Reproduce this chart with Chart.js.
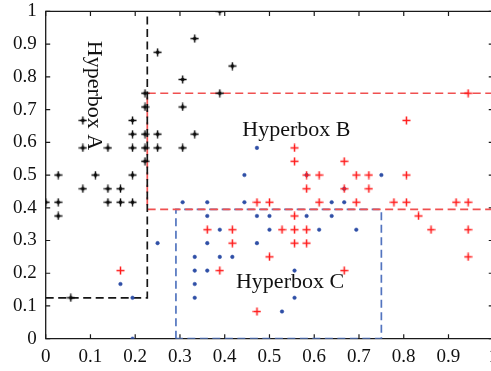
<!DOCTYPE html>
<html><head><meta charset="utf-8">
<script src="https://cdn.jsdelivr.net/npm/chart.js@4.4.1/dist/chart.umd.min.js"></script>
<style>
html,body{margin:0;padding:0;background:#fff;overflow:hidden;width:491px;height:371px;position:relative}
#wrap{position:absolute;left:0;top:0}
</style>
</head><body><div id="wrap"><canvas id="c" width="505" height="378"></canvas></div>
<script>
// ---- data ----
const tickValues = [0,0.1,0.2,0.3,0.4,0.5,0.6,0.7,0.8,0.9,1];
const tickLabels = ['0','0.1','0.2','0.3','0.4','0.5','0.6','0.7','0.8','0.9','1'];

const classAX = [0.389,0.333,0.25,0.417,0.306,0.222,0.389,0.222,0.306,0.083,0.194,0.194,0.222,0.25,0.333,0.083,0.139,0.194,0.222,0.25,0.306,0.222,0.028,0.111,0.194,0.083,0.139,0.167,0,0.028,0.139,0.167,0.194,0.028,0.056];
const classAY = [1,0.917,0.875,0.833,0.792,0.75,0.75,0.708,0.708,0.667,0.667,0.625,0.625,0.625,0.625,0.583,0.583,0.583,0.583,0.583,0.583,0.542,0.5,0.5,0.5,0.458,0.458,0.458,0.417,0.417,0.417,0.417,0.417,0.375,0.125];

const classBX = [0.944,0.806,0.556,0.556,0.667,0.583,0.611,0.694,0.722,0.806,0.583,0.667,0.722,0.472,0.5,0.611,0.694,0.778,0.806,0.917,0.944,0.556,0.833,0.361,0.417,0.528,0.556,0.583,0.861,0.944,0.417,0.556,0.583,0.5,0.944,0.167,0.389,0.667,0.472];
const classBY = [0.75,0.667,0.583,0.542,0.542,0.5,0.5,0.5,0.5,0.5,0.458,0.458,0.458,0.417,0.417,0.417,0.417,0.417,0.417,0.417,0.417,0.375,0.375,0.333,0.333,0.333,0.333,0.333,0.333,0.333,0.292,0.292,0.292,0.25,0.25,0.208,0.208,0.208,0.083];

const classCX = [0.472,0.444,0.75,0.306,0.361,0.444,0.639,0.667,0.361,0.472,0.5,0.583,0.639,0.389,0.5,0.611,0.694,0.25,0.361,0.472,0.333,0.389,0.417,0.333,0.361,0.556,0.167,0.333,0.194,0.333,0.556,0.528,0.194,0.583,0.667];
const classCY = [0.583,0.5,0.5,0.417,0.417,0.417,0.417,0.417,0.375,0.375,0.375,0.375,0.375,0.333,0.333,0.333,0.333,0.292,0.292,0.292,0.25,0.25,0.25,0.208,0.208,0.208,0.167,0.167,0.125,0.125,0.125,0.083,0,0.5,0.458];

const boxAX = [0,0.227,0.227];
const boxAY = [0.125,0.125,1];
const boxBX = [1,0.227,0.227,1];
const boxBY = [0.75,0.75,0.395,0.395];
const boxCX = [0.291,0.291,0.75,0.75,0.291];
const boxCY = [0,0.395,0.395,0,0];

const boxNames = ['Hyperbox A','Hyperbox B','Hyperbox C'];

// ---- build ----
const pts = (xs, ys) => xs.map((x, i) => ({x: x, y: ys[i]}));
const SERIF = '"Liberation Serif", "Times New Roman", serif';

// target plot frame in the page
const FRAME = {left: 45.7, top: 11.7, width: 447.2, height: 327};

// marker images
function plusMarker(color, size, lw, core) {
  const c = document.createElement('canvas');
  c.width = size; c.height = size;
  const g = c.getContext('2d');
  const m = size / 2;
  g.strokeStyle = color; g.lineWidth = lw;
  g.beginPath();
  g.moveTo(0.5, m); g.lineTo(size - 0.5, m);
  g.moveTo(m, 0.5); g.lineTo(m, size - 0.5);
  g.stroke();
  if (core) {
    g.fillStyle = color;
    g.beginPath();
    g.moveTo(m - core, m); g.lineTo(m, m - core); g.lineTo(m + core, m); g.lineTo(m, m + core);
    g.closePath(); g.fill();
  }
  return c;
}
const blackPlus = plusMarker('#0a0a0a', 9, 1.4, 2.4);
const redPlus = plusMarker('#ff1a1a', 9, 1.5, 0);

const framePlugin = {
  id: 'frame',
  beforeDatasetsDraw(chart) {
    const {ctx, chartArea: a, scales: {x, y}} = chart;
    ctx.save();
    ctx.strokeStyle = '#1a1a1a';
    ctx.lineWidth = 1.3;
    ctx.beginPath();
    ctx.rect(a.left, a.top, a.right - a.left, a.bottom - a.top);
    ctx.stroke();
    const L = 4.5;
    ctx.lineWidth = 1.2;
    ctx.beginPath();
    x.ticks.forEach(t => {
      const px = x.getPixelForValue(t.value);
      ctx.moveTo(px, a.bottom); ctx.lineTo(px, a.bottom - L);
      ctx.moveTo(px, a.top); ctx.lineTo(px, a.top + L);
    });
    y.ticks.forEach(t => {
      const py = y.getPixelForValue(t.value);
      ctx.moveTo(a.left, py); ctx.lineTo(a.left + L, py);
      ctx.moveTo(a.right, py); ctx.lineTo(a.right - L, py);
    });
    ctx.stroke();
    ctx.restore();
  }
};

const textPlugin = {
  id: 'boxText',
  afterDatasetsDraw(chart, args, opts) {
    const {ctx, scales: {x, y}} = chart;
    ctx.save();
    ctx.fillStyle = '#111';
    ctx.font = '22px ' + SERIF;
    ctx.textBaseline = 'alphabetic';
    ctx.textAlign = 'center';
    opts.items.forEach((it, i) => {
      const px = x.getPixelForValue(it.x), py = y.getPixelForValue(it.y);
      ctx.save();
      ctx.translate(px, py);
      if (it.rot) ctx.rotate(Math.PI / 2);
      ctx.fillText(boxNames[i], 0, 0);
      ctx.restore();
    });
    ctx.restore();
  }
};

const lineDs = (xs, ys, color, order) => ({
  type: 'scatter', data: pts(xs, ys), showLine: true, fill: false, tension: 0,
  borderColor: color, borderWidth: 1.7, borderDash: [8, 4.5], pointRadius: 0, order: order
});

const axisCommon = {
  type: 'linear', min: 0, max: 1,
  grid: {display: false, drawTicks: false},
  border: {display: false},
  afterBuildTicks: s => { s.ticks = tickValues.map(v => ({value: v})); }
};

function makeConfig() {
  return {
    type: 'scatter',
    data: {
      datasets: [
        lineDs(boxAX, boxAY, '#151515', 10),
        lineDs(boxBX, boxBY, '#f05050', 11),
        lineDs(boxCX, boxCY, '#5274bf', 12),
        {data: pts(classCX, classCY), pointStyle: 'circle', pointRadius: 1.8, backgroundColor: '#2f4fa6', borderColor: '#2f4fa6', borderWidth: 0.5, order: 5},
        {data: pts(classBX, classBY), pointStyle: redPlus, pointRadius: 4.5, order: 4},
        {data: pts(classAX, classAY), pointStyle: blackPlus, pointRadius: 4.5, order: 3}
      ]
    },
    options: {
      responsive: false, animation: false, devicePixelRatio: 1,
      layout: {padding: 0},
      plugins: {
        legend: {display: false}, tooltip: {enabled: false},
        boxText: {items: [
          {x: 0.095, y: 0.743, rot: true},
          {x: 0.56, y: 0.618},
          {x: 0.546, y: 0.1535}
        ]}
      },
      scales: {
        x: Object.assign({}, axisCommon, {
          afterFit: s => { s.height = 32.3; },
          ticks: {callback: (v, i) => tickLabels[i], font: {family: SERIF, size: 19}, color: '#111', padding: 7, maxRotation: 0, autoSkip: false}
        }),
        y: Object.assign({}, axisCommon, {
          afterFit: s => { s.width = FRAME.left; },
          ticks: {callback: (v, i) => tickLabels[i], font: {family: SERIF, size: 19}, color: '#111', padding: 9, autoSkip: false}
        })
      }
    },
    plugins: [framePlugin, textPlugin]
  };
}

const canvas = document.getElementById('c');
const wrap = document.getElementById('wrap');
let chart = new Chart(canvas, makeConfig());
// measure layout margins, then size the canvas so the plot frame lands where it should
const a = chart.chartArea;
const W0 = canvas.width, H0 = canvas.height;
const rightMargin = W0 - a.right, bottomMargin = H0 - a.bottom, topMargin = a.top, leftMargin = a.left;
chart.destroy();
const W = Math.round(leftMargin + FRAME.width + rightMargin);
const H = Math.round(topMargin + FRAME.height + bottomMargin);
canvas.width = W; canvas.height = H;
canvas.style.width = W + 'px'; canvas.style.height = H + 'px';
wrap.style.left = (FRAME.left - leftMargin) + 'px';
wrap.style.top = (FRAME.top - topMargin) + 'px';
chart = new Chart(canvas, makeConfig());
</script>
</body></html>
